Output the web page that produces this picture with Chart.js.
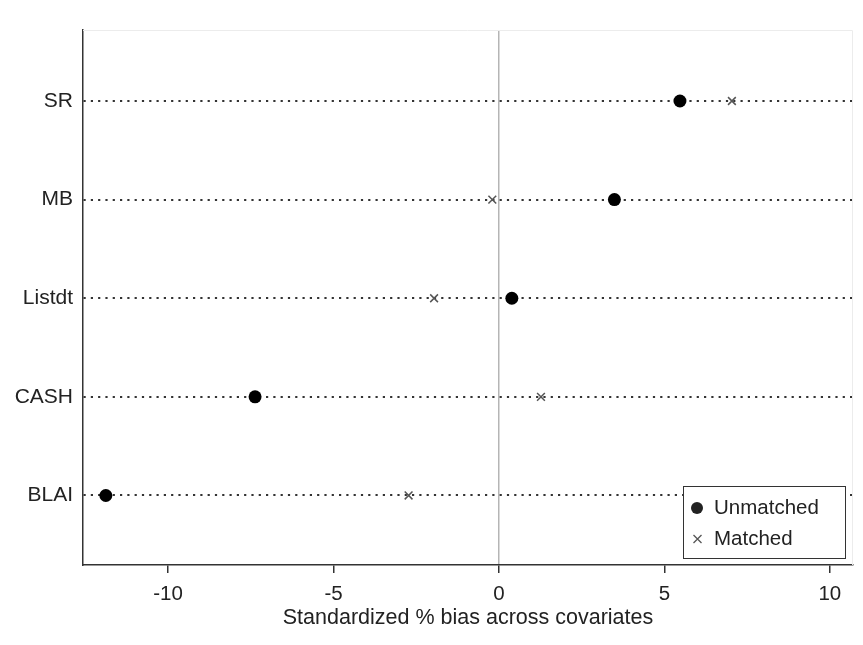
<!DOCTYPE html>
<html>
<head>
<meta charset="utf-8">
<script src="https://cdn.jsdelivr.net/npm/chart.js@4.4.0/dist/chart.umd.min.js"></script>
<style>
  html, body { margin: 0; padding: 0; background: #fff; }
  #wrap { width: 863px; height: 645px; }
</style>
</head>
<body>
<div id="wrap"><canvas id="biasChart" width="863" height="645"></canvas></div>
<script>
// covariates, bottom to top (y = 1..5)
const covariates = ['BLAI', 'CASH', 'Listdt', 'MB', 'SR'];
const unmatchedBias = [-11.88, -7.37, 0.39, 3.49, 5.47];
const matchedBias = [-2.73, 1.27, -1.96, -0.20, 7.04];
const xTickValues = [-10, -5, 0, 5, 10];
const seriesLabels = ['Unmatched', 'Matched'];

const FONT = '"Liberation Sans", Arial, sans-serif';

function toPoints(values) {
    return values.map((v, i) => ({ x: v, y: i + 1 }));
}

// light frame on top/right + legend box inside plot area
const frameAndLegend = {
    id: 'frameAndLegend',
    beforeDatasetsDraw(chart) {
        const { ctx, chartArea: a } = chart;
        ctx.save();
        ctx.strokeStyle = '#ececec';
        ctx.lineWidth = 1;
        ctx.beginPath();
        ctx.moveTo(a.left, a.top + 0.5);
        ctx.lineTo(a.right - 0.5, a.top + 0.5);
        ctx.lineTo(a.right - 0.5, a.bottom);
        ctx.stroke();
        ctx.restore();
    },
    afterDraw(chart) {
        const { ctx, chartArea: a } = chart;
        const w = 162, h = 72;
        const x0 = a.right - 8 - w, y0 = a.bottom - 7 - h;
        ctx.save();
        ctx.fillStyle = '#fff';
        ctx.fillRect(x0, y0, w, h);
        ctx.strokeStyle = '#333';
        ctx.lineWidth = 1;
        ctx.strokeRect(x0 + 0.5, y0 + 0.5, w, h);

        ctx.font = '20.5px ' + FONT;
        ctx.fillStyle = '#222';
        ctx.textBaseline = 'middle';

        // Unmatched: filled circle
        const r1y = y0 + 22;
        ctx.beginPath();
        ctx.arc(x0 + 14, r1y, 6, 0, Math.PI * 2);
        ctx.fill();
        ctx.fillText(seriesLabels[0], x0 + 31, r1y);

        // Matched: small cross
        const r2y = y0 + 53;
        ctx.strokeStyle = '#555';
        ctx.lineWidth = 1.3;
        ctx.beginPath();
        ctx.moveTo(x0 + 10.5, r2y - 4); ctx.lineTo(x0 + 18.5, r2y + 4);
        ctx.moveTo(x0 + 18.5, r2y - 4); ctx.lineTo(x0 + 10.5, r2y + 4);
        ctx.stroke();
        ctx.fillText(seriesLabels[1], x0 + 31, r2y);
        ctx.restore();
    }
};

new Chart(document.getElementById('biasChart'), {
    type: 'scatter',
    data: {
        datasets: [
            {
                label: seriesLabels[1],
                data: toPoints(matchedBias),
                pointStyle: 'crossRot',
                pointRadius: 5.5,
                pointBorderWidth: 1.5,
                borderColor: '#555',
                backgroundColor: '#555'
            },
            {
                label: seriesLabels[0],
                data: toPoints(unmatchedBias),
                pointStyle: 'circle',
                pointRadius: 6.5,
                borderWidth: 0,
                backgroundColor: '#000',
                borderColor: '#000'
            }
        ]
    },
    options: {
        responsive: false,
        animation: false,
        layout: { padding: { top: 30, right: 10, left: 0, bottom: 14 } },
        plugins: {
            legend: { display: false },
            tooltip: { enabled: false }
        },
        scales: {
            x: {
                type: 'linear',
                min: -12.57,
                max: 10.7,
                afterBuildTicks: s => { s.ticks = xTickValues.map(v => ({ value: v })); },
                afterFit: s => { s.height = 66; },
                border: { display: true, color: '#333', width: 1.5 },
                grid: {
                    drawOnChartArea: true,
                    color: c => (c.tick && c.tick.value === 0 ? '#b5b5b5' : 'rgba(0,0,0,0)'),
                    lineWidth: 1.5,
                    tickColor: '#333',
                    tickLength: 8
                },
                ticks: {
                    color: '#222',
                    font: { family: FONT, size: 20.5 },
                    padding: 9
                },
                title: {
                    display: true,
                    text: 'Standardized % bias across covariates',
                    color: '#222',
                    font: { family: FONT, size: 21.5 },
                    padding: { top: 0, bottom: 0 }
                }
            },
            y: {
                type: 'linear',
                min: 0.295,
                max: 5.72,
                afterBuildTicks: s => { s.ticks = covariates.map((_, i) => ({ value: i + 1 })); },
                afterFit: s => { s.width = 83; },
                border: { display: true, color: '#333', width: 1.5, dash: [2.2, 5.1] },
                grid: {
                    color: '#333',
                    lineWidth: 2,
                    drawTicks: false
                },
                ticks: {
                    color: '#222',
                    font: { family: FONT, size: 21 },
                    padding: 10,
                    callback: v => covariates[v - 1]
                }
            }
        }
    },
    plugins: [frameAndLegend]
});
</script>
</body>
</html>
